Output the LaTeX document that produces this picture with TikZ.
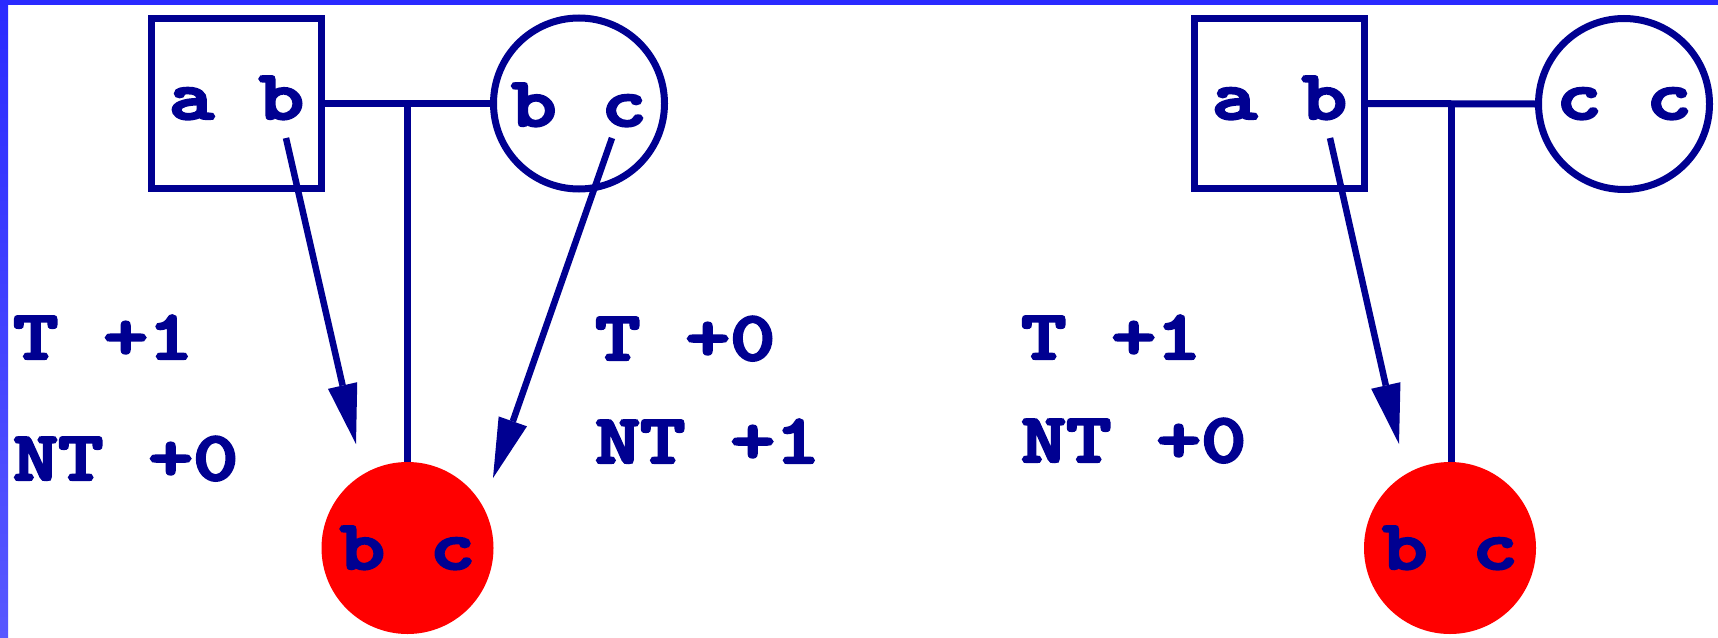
\documentclass[tikz,border=0pt]{standalone}
\usepackage{fontspec}
\newfontfamily\courb{lmmonolt10-bold.otf}[FakeBold=3.5]
\usetikzlibrary{arrows.meta,calc}
\definecolor{dkblue}{RGB}{0,0,145}
\definecolor{barblue}{RGB}{42,42,255}
\definecolor{barblue2}{RGB}{88,88,255}
\newcommand{\cw}[1]{\scalebox{1.2245}[1]{#1}}
\begin{document}
\begin{tikzpicture}[x=1pt,y=-1pt,
  every node/.style={font=\courb\fontsize{70}{80}\selectfont, text=dkblue},
  sqbox/.style={draw=dkblue, line width=7pt, rectangle, minimum size=170pt, inner sep=0pt, text depth=0pt},
  tcirc/.style={draw=dkblue, line width=7pt, circle, minimum size=171pt, inner sep=0pt, text depth=0pt},
  rcirc/.style={fill=red, circle, minimum size=172pt, inner sep=0pt, text depth=0pt, text height=42pt},
  link/.style={draw=dkblue, line width=7pt},
  arr/.style={draw=dkblue, line width=6.5pt, -{Triangle[length=60pt,width=30pt,line width=0pt]}},
  lab/.style={anchor=base west, inner sep=0pt}
]
\useasboundingbox (0,0) rectangle (1718,637);
\fill[white] (0,0) rectangle (1718,637);
\fill[barblue] (0,0) rectangle (1718,5);
\shade[top color=barblue, bottom color=barblue2] (0,0) rectangle (8,637);

% left panel
\node[sqbox, text height=31pt] (sq1) at (236.5,103.5) {\cw{a b}};
\node[tcirc, text height=45pt] (ci1) at (579,103.5) {\cw{b c}};
\node[rcirc] (rc1) at (407.5,548) {\cw{b c}};
\coordinate (m1) at ($(sq1.east)!0.5!(ci1.west)$);
\draw[link] (sq1.east) -- (ci1.west);
\draw[link] (m1) -- (m1 |- rc1.north);
\coordinate (a1s) at (286,138);
\coordinate (a1e) at (356,444);
\coordinate (a2s) at (612,138);
\coordinate (a2e) at (493,478);
\draw[arr] (a1s) -- (a1e);
\draw[arr] (a2s) -- (a2e);
\node[lab] (t1) at (13,359) {\cw{T +1}};
\node[lab] (n1) at (13,480) {\cw{NT +0}};
\node[lab] (t2) at (595,360) {\cw{T +0}};
\node[lab] (n2) at (595,463) {\cw{NT +1}};

% right panel
\node[sqbox, text height=31pt] (sq2) at (1279.5,103.5) {\cw{a b}};
\node[tcirc, text height=30pt] (ci2) at (1624,104) {\cw{c c}};
\node[rcirc] (rc2) at (1450,548) {\cw{b c}};
\coordinate (m2) at ($(sq2.east)!0.5!(ci2.west)$);
\draw[link] (sq2.east) -- (ci2.west);
\draw[link] (m2) -- (m2 |- rc2.north);
\coordinate (a3s) at (1330,138);
\coordinate (a3e) at (1399,444);
\draw[arr] (a3s) -- (a3e);
\node[lab] (t3) at (1021,359) {\cw{T +1}};
\node[lab] (n3) at (1021,462) {\cw{NT +0}};
\end{tikzpicture}
\end{document}
